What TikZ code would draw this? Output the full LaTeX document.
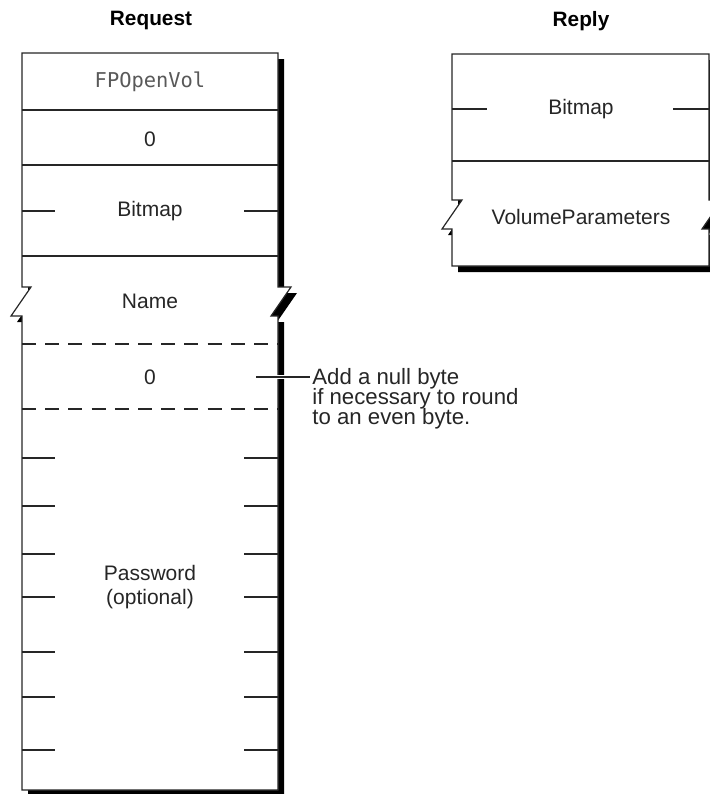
\documentclass[tikz,border=0pt]{standalone}
\usepackage{fontspec}
\setmainfont{Liberation Sans}
\newfontfamily\codefont{DejaVu Sans Mono}
\usetikzlibrary{positioning}
\newcommand{\tightlines}{\lineskiplimit=-10pt\relax}

\begin{document}
\begin{tikzpicture}[x=0.5pt, y=-0.5pt,
  lbl/.style={font=\fontsize{10.5}{9.7}\selectfont, text=black!85, inner sep=0pt},
  ttl/.style={font=\fontsize{10.4}{12}\selectfont\bfseries, inner sep=0pt},
  code/.style={font=\codefont\fontsize{10.2}{12}\selectfont, text=black!65, inner sep=0pt},
  edge/.style={line width=0.6pt, black!85},
  brk/.style={edge, dash pattern=on 7pt off 4.6pt},
  shade/.style={fill=black, shift={(3pt,-3pt)}}]
\useasboundingbox (0,0) rectangle (710,794);
\fill[shade] (22,53) -- (278,53) -- (278,287) -- (291,287) -- (271,316) -- (278,316) -- (278,790)
  -- (22,790) -- (22,316) -- (11,316) -- (31,287) -- (22,287) -- cycle;
\filldraw[edge, fill=white] (22,53) -- (278,53) -- (278,287) -- (291,287) -- (271,316) -- (278,316) -- (278,790)
  -- (22,790) -- (22,316) -- (11,316) -- (31,287) -- (22,287) -- cycle;
\fill[shade] (452,54) -- (709,54) -- (709,200) -- (722,200) -- (702,229) -- (709,229) -- (709,266)
  -- (452,266) -- (452,229) -- (442,229) -- (462,200) -- (452,200) -- cycle;
\filldraw[edge, fill=white] (452,54) -- (709,54) -- (709,200) -- (722,200) -- (702,229) -- (709,229) -- (709,266)
  -- (452,266) -- (452,229) -- (442,229) -- (462,200) -- (452,200) -- cycle;
\foreach \y in {110,165,256} \draw[edge] (22,\y) -- (278,\y);
\foreach \y in {344,409} \draw[brk] (22,\y) -- (278,\y);
\foreach \y in {211,458,506,554,597,652,697,750}
  \draw[edge] (22,\y) -- (55,\y) (244,\y) -- (278,\y);
\draw[edge] (452,161) -- (709,161);
\draw[edge] (452,109) -- (487,109) (673,109) -- (709,109);
\node[ttl] (req) at (151,20) {Request};
\node[ttl] (rep) at (581,21) {Reply};
\node[code] (cmd) at (150,82) {FPOpenVol};
\node[lbl] (pad) at (150,139) {0};
\node[lbl] (bmp) at (150,211) {Bitmap};
\node[lbl] (nam) at (150,301) {Name};
\node[lbl] (nul) at (150,377) {0};
\node[lbl, align=center, font=\fontsize{10.5}{12}\selectfont] (pwd) at (150,587) {Password\\(optional)};
\node[lbl] (rbmp) at (581,109) {Bitmap};
\node[lbl] (vol) at (581,217) {VolumeParameters};
\node[lbl, align=left, anchor=west, font=\fontsize{11.1}{9.9}\selectfont\tightlines] (note) at (312,399)
  {Add a null byte\\if necessary to round\\to an even byte.};
\coordinate (tick) at (256,377);
\draw[white, line width=2pt] (tick) -- ([xshift=-1pt]note.west |- tick);
\draw[edge] (tick) -- ([xshift=-1pt]note.west |- tick);
\end{tikzpicture}
\end{document}
